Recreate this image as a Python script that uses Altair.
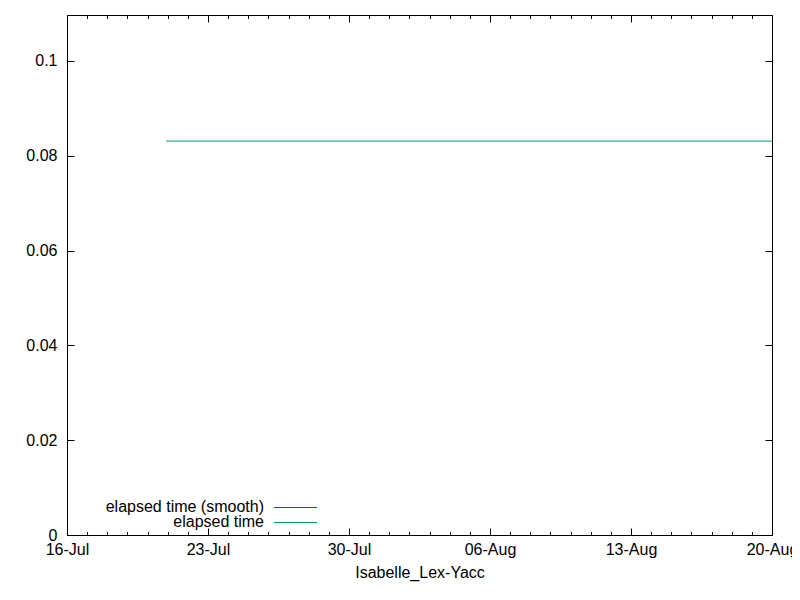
import altair as alt
import pandas as pd

# ---- data ----
dates = ["2023-07-20T22:00:00Z", "2023-08-20T00:00:00Z"]
elapsed = [0.0831, 0.0831]
elapsed_smooth = [0.0831, 0.0831]

major_ticks = ["2023-07-16", "2023-07-23", "2023-07-30", "2023-08-06", "2023-08-13", "2023-08-20"]
minor_ticks = [f"2023-07-{d:02d}" for d in range(16, 32)] + [f"2023-08-{d:02d}" for d in range(1, 21)]
y_ticks = [0, 0.02, 0.04, 0.06, 0.08, 0.1]
x_domain = ["2023-07-16", "2023-08-20"]
y_domain = [0, 0.1097]

legend_labels = ["elapsed time (smooth)", "elapsed time"]
legend_colors = ["#9400d3", "#009e73"]
x_title = "Isabelle_Lex-Yacc"

FONT = "Liberation Sans"
FS = 16


def ms(s):
    return int(pd.Timestamp(s, tz="UTC").value // 1_000_000)


major_ms = [ms(s) for s in major_ticks]
minor_ms = [ms(s) for s in minor_ticks]
domain_ms = [ms(s) for s in x_domain]

df = pd.DataFrame({"t": dates, "elapsed": elapsed, "smooth": elapsed_smooth})

xscale = alt.Scale(type="utc", domain=domain_ms)
yscale = alt.Scale(domain=y_domain, nice=False, zero=False)

base = alt.Chart(df)


def tick_axis(orient, values, size, **kw):
    return alt.Axis(orient=orient, values=values, tickSize=size, offset=-size,
                    labels=False, domain=False, grid=False, title=None,
                    tickColor="black", ticks=True, **kw)


# smooth series (hidden beneath the raw series in the reference) carries labels + title
smooth_line = base.mark_line(color=legend_colors[0], strokeWidth=1, strokeOpacity=0, clip=True).encode(
    x=alt.X("t:T", scale=xscale,
            axis=alt.Axis(orient="bottom", values=major_ms, ticks=False, tickSize=0,
                          domain=False, grid=False, labelFlush=False, labelOverlap=False,
                          labelExpr="utcFormat(datum.value, '%d-%b')",
                          labelPadding=6, labelFont=FONT, labelFontSize=FS,
                          labelColor="black", title=x_title, titleFont=FONT,
                          titleFontSize=FS, titleFontWeight="normal",
                          titleColor="black", titlePadding=7)),
    y=alt.Y("smooth:Q", scale=yscale,
            axis=alt.Axis(orient="left", values=y_ticks, ticks=False, tickSize=0,
                          domain=False, grid=False, format="~g",
                          labelFlush=False, labelOverlap=False,
                          labelPadding=10, labelFont=FONT, labelFontSize=FS,
                          labelColor="black", title=None)),
)

elapsed_line = base.mark_line(color=legend_colors[1], strokeWidth=1, clip=True).encode(
    x=alt.X("t:T", scale=xscale, axis=tick_axis("bottom", major_ms, 7)),
    y=alt.Y("elapsed:Q", scale=yscale, axis=tick_axis("left", y_ticks, 7)),
)

top_major = base.mark_line(strokeOpacity=0).encode(
    x=alt.X("t:T", scale=xscale, axis=tick_axis("top", major_ms, 7)),
    y=alt.Y("elapsed:Q", scale=yscale, axis=tick_axis("right", y_ticks, 7)),
)

bottom_minor = base.mark_line(strokeOpacity=0).encode(
    x=alt.X("t:T", scale=xscale, axis=tick_axis("bottom", minor_ms, 3.5)),
    y=alt.Y("elapsed:Q", scale=yscale, axis=None),
)

top_minor = base.mark_line(strokeOpacity=0).encode(
    x=alt.X("t:T", scale=xscale, axis=tick_axis("top", minor_ms, 3.5)),
    y=alt.Y("elapsed:Q", scale=yscale, axis=None),
)

# legend (gnuplot style: text then line sample)
leg_layers = []
rows_y = [492, 507]
for lab, col, yy in zip(legend_labels, legend_colors, rows_y):
    leg_layers.append(
        alt.Chart(pd.DataFrame({"label": [lab]})).mark_text(
            align="right", baseline="middle", font=FONT, fontSize=FS, color="black"
        ).encode(text="label:N", x=alt.value(197), y=alt.value(yy))
    )
    leg_layers.append(
        alt.Chart(pd.DataFrame({"label": [lab]})).mark_rule(color=col, strokeWidth=1).encode(
            x=alt.value(207), x2=alt.value(250), y=alt.value(yy + 0.5)
        )
    )

chart = alt.layer(
    smooth_line, elapsed_line, top_major, bottom_minor, top_minor, *leg_layers
).resolve_axis(x="independent", y="independent").properties(
    width=705, height=520,
    autosize=alt.AutoSizeParams(type="none"),
    padding={"left": 59, "top": 7, "right": 20, "bottom": 57},
    background="white",
).configure_view(stroke="black", strokeWidth=1)

chart.save("out.html", embed_options={"renderer": "svg", "actions": False})
